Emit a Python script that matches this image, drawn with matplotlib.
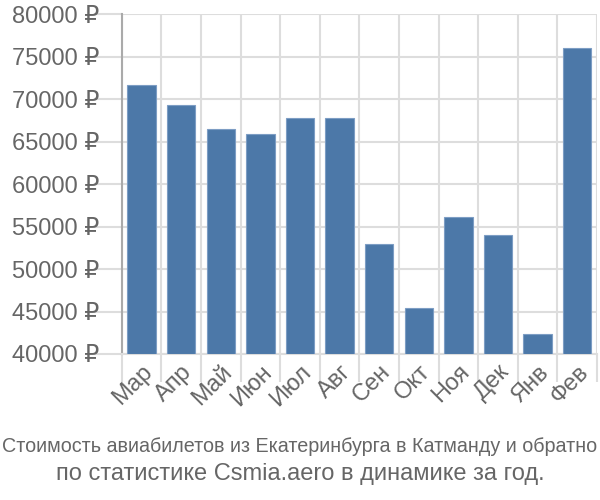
import matplotlib

matplotlib.use("Agg")
import matplotlib.pyplot as plt
from matplotlib.ticker import FuncFormatter, MultipleLocator

months = ["Мар", "Апр", "Май", "Июн", "Июл", "Авг",
          "Сен", "Окт", "Ноя", "Дек", "Янв", "Фев"]
prices = [71700, 69300, 66500, 65900, 67800, 67800,
          53000, 45400, 56100, 54000, 42400, 76000]
title_1 = "Стоимость авиабилетов из Екатеринбурга в Катманду и обратно"
title_2 = "по статистике Csmia.aero в динамике за год."

plt.rcParams["font.family"] = ["Liberation Sans", "DejaVu Sans"]

fig = plt.figure(figsize=(6, 5), dpi=100)
ax = fig.add_axes([0.203, 0.292, 0.792, 0.679])

x = list(range(len(months)))
ax.bar(x, [p - 40000 for p in prices], bottom=40000, width=0.72,
       color="#4c78a8", edgecolor="#7d9dc4", linewidth=0.8, zorder=3)

ax.set_xlim(-0.5, len(months) - 0.5)
ax.set_ylim(40000, 80000)
ax.yaxis.set_major_locator(MultipleLocator(5000))
ax.yaxis.set_major_formatter(FuncFormatter(lambda v, _: f"{int(v)} ₽"))

ax.set_xticks([i - 0.5 for i in x] + [len(months) - 0.5], minor=False)
ax.set_xticklabels([])
ax.set_xticks(x, minor=True)
ax.set_xticklabels(months, minor=True, rotation=45, ha="right",
                   rotation_mode="anchor", fontsize=17, color="#666666")
ax.tick_params(axis="x", which="minor", length=0, pad=5)
ax.tick_params(axis="x", which="major", length=20, color="#dddddd", width=1.5)
ax.tick_params(axis="y", length=20, color="#dddddd", width=1.5,
               labelsize=17, labelcolor="#666666", pad=-4)

ax.grid(True, which="major", color="#dddddd", linewidth=1.5, zorder=0)
for side in ["top", "right"]:
    ax.spines[side].set_visible(False)
ax.spines["left"].set_color("#aaaaaa")
ax.spines["left"].set_linewidth(1.5)
ax.spines["bottom"].set_color("#dddddd")
ax.spines["bottom"].set_linewidth(1.5)

fig.text(0.5, 0.108, title_1, ha="center", va="center",
         fontsize=14.2, color="#666666")
fig.text(0.5, 0.052, title_2, ha="center", va="center",
         fontsize=17, color="#666666")

fig.savefig("out.png", dpi=100)
